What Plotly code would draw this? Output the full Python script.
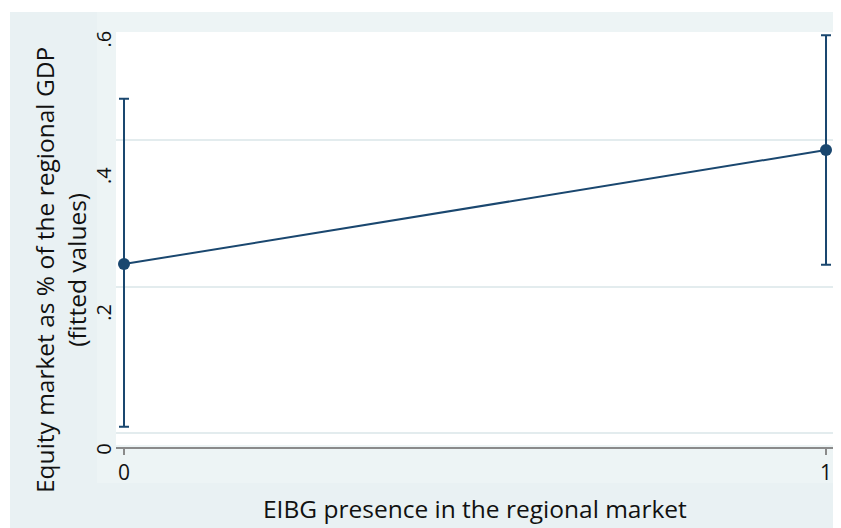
import plotly.graph_objects as go

# ---- data ----
eibg_presence = [0, 1]
fitted_values = [0.275, 0.442]
ci_upper = [0.517, 0.610]
ci_lower = [0.037, 0.274]

y_tick_values = [0, 0.2, 0.4, 0.6]
y_tick_labels = ["0", ".2", ".4", ".6"]
x_tick_values = [0, 1]
x_tick_labels = ["0", "1"]

x_title = "EIBG presence in the regional market"
y_title = "Equity market as % of the regional GDP<br>(fitted values)"

NAVY = "#1a476f"
BG = "#e9f1f3"
BG_INNER = "#edf4f5"
GRID = "#e3ecee"
TXT = "#111111"

err_plus = [h - v for h, v in zip(ci_upper, fitted_values)]
err_minus = [v - l for v, l in zip(fitted_values, ci_lower)]

fig = go.Figure()
fig.add_trace(go.Scatter(
    x=eibg_presence, y=fitted_values, mode="lines+markers",
    line=dict(color=NAVY, width=2),
    marker=dict(color=NAVY, size=12),
    error_y=dict(type="data", symmetric=False, array=err_plus, arrayminus=err_minus,
                 color=NAVY, thickness=2, width=5),
    showlegend=False, cliponaxis=False,
))

# page has an 8px body margin, so the figure is sized/offset to compensate
W, H = 833, 520
L, R, T, B = 108, 2, 24, 72
ph = H - T - B
pw = W - L - R

font_family = "'Open Sans', sans-serif"
TITLE_SIZE = 24.5


def px_x(x):
    return (x - L) / pw


def px_y(y):
    return (T + ph - y) / ph


def rect(x0, x1, y0, y1, color):
    return dict(type="rect", xref="paper", yref="paper",
                x0=px_x(x0), x1=px_x(x1), y0=px_y(y1), y1=px_y(y0),
                fillcolor=color, line=dict(width=0), layer="below")


fig.update_layout(
    width=W, height=H,
    margin=dict(l=L, r=R, t=T, b=B, autoexpand=False),
    paper_bgcolor=BG, plot_bgcolor="white",
    font=dict(family=font_family, color=TXT),
    xaxis=dict(
        range=[-0.0114, 1.0185],
        tickmode="array", tickvals=x_tick_values, ticktext=x_tick_labels,
        showgrid=False, zeroline=False,
        showline=True, linecolor="#8a8a8a", linewidth=1.5,
        ticks="outside", ticklen=6, tickcolor="#8a8a8a", tickwidth=1.5,
        tickfont=dict(size=21, family=font_family, color=TXT),
        anchor="free", position=px_y(440),
        automargin=False,
    ),
    yaxis=dict(
        range=[-0.00585, 0.6147],
        tickmode="array", tickvals=y_tick_values, ticktext=y_tick_labels,
        tickangle=-90,
        showgrid=False, zeroline=False, showline=False, ticks="",
        tickfont=dict(size=20, family=font_family, color=TXT),
        minor=dict(tickmode="array", tickvals=[0.0278, 0.2415, 0.4566],
                   showgrid=True, gridcolor=GRID, gridwidth=2, ticks=""),
        automargin=False,
    ),
    annotations=[
        dict(text=x_title, xref="paper", yref="paper", x=px_x(467), y=px_y(500),
             xanchor="center", yanchor="middle", showarrow=False,
             font=dict(size=TITLE_SIZE, family=font_family, color=TXT)),
        dict(text=y_title, xref="paper", yref="paper", x=px_x(52), y=px_y(262),
             xanchor="center", yanchor="middle", showarrow=False, textangle=-90,
             font=dict(size=TITLE_SIZE, family=font_family, color=TXT)),
    ],
    shapes=[
        # slightly lighter inner graph region (framing the plot area)
        rect(89, L, 4, 475, BG_INNER),
        rect(L, W + 5, 4, T, BG_INNER),
        rect(L, W + 5, 437, 475, BG_INNER),
        # white outer edge top / left
        rect(-200, W + 200, -200, 4, "white"),
        rect(-200, 2, -200, H + 200, "white"),
    ],
)

fig.write_html("out.html")
